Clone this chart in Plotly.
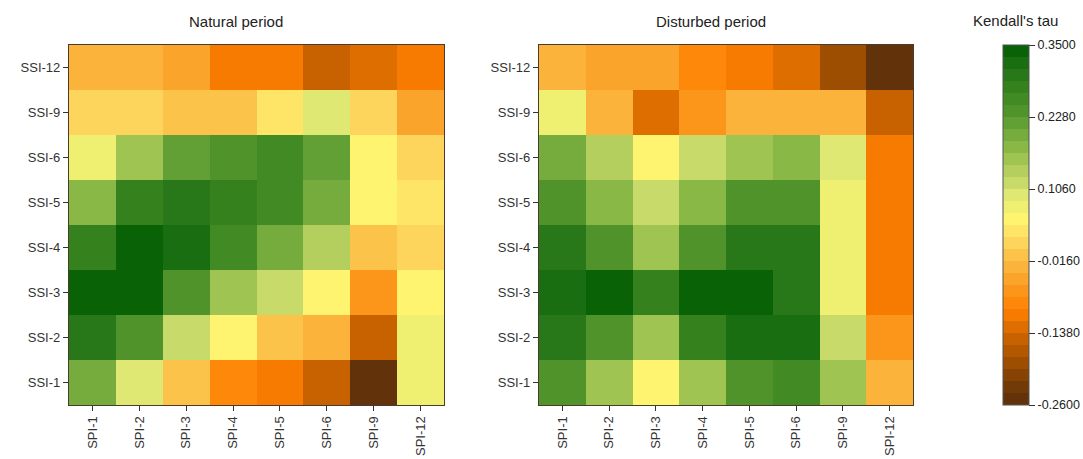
import plotly.graph_objects as go

spi_labels = ["SPI-1", "SPI-2", "SPI-3", "SPI-4", "SPI-5", "SPI-6", "SPI-9", "SPI-12"]
ssi_labels = ["SSI-12", "SSI-9", "SSI-6", "SSI-5", "SSI-4", "SSI-3", "SSI-2", "SSI-1"]

natural_tau = [
    [-0.020, -0.035, -0.050, -0.100, -0.115, -0.140, -0.120, -0.100],
    [0.010, 0.010, -0.010, -0.010, 0.030, 0.090, 0.015, -0.040],
    [0.085, 0.160, 0.210, 0.228, 0.260, 0.210, 0.055, 0.005],
    [0.180, 0.280, 0.300, 0.280, 0.260, 0.190, 0.055, 0.025],
    [0.270, 0.350, 0.320, 0.250, 0.190, 0.140, 0.000, 0.020],
    [0.350, 0.350, 0.230, 0.160, 0.110, 0.055, -0.060, 0.050],
    [0.290, 0.230, 0.120, 0.055, -0.010, -0.035, -0.140, 0.070],
    [0.190, 0.100, 0.000, -0.085, -0.115, -0.145, -0.240, 0.070],
]

disturbed_tau = [
    [-0.020, -0.040, -0.050, -0.080, -0.100, -0.120, -0.190, -0.255],
    [0.075, -0.020, -0.125, -0.060, -0.035, -0.035, -0.020, -0.140],
    [0.190, 0.140, 0.055, 0.125, 0.160, 0.175, 0.100, -0.100],
    [0.230, 0.175, 0.110, 0.185, 0.228, 0.245, 0.085, -0.100],
    [0.290, 0.230, 0.155, 0.245, 0.290, 0.290, 0.085, -0.100],
    [0.310, 0.335, 0.270, 0.335, 0.335, 0.290, 0.085, -0.100],
    [0.300, 0.245, 0.160, 0.270, 0.310, 0.310, 0.120, -0.060],
    [0.230, 0.160, 0.055, 0.155, 0.245, 0.260, 0.150, -0.020],
]

panel_titles = ["Natural period", "Disturbed period"]
cbar_ticks = [-0.26, -0.138, -0.016, 0.106, 0.228, 0.35]
cbar_ticktext = ["-0.2600", "-0.1380", "-0.0160", "0.1060", "0.2280", "0.3500"]
zmin, zmax = -0.26, 0.35

# colour anchors (value, hex)
anchors = [
    (-0.26, "#5a2e0c"), (-0.22, "#7a3e06"), (-0.18, "#a85200"), (-0.14, "#d06600"),
    (-0.10, "#ff8000"), (-0.06, "#fb9a20"), (-0.02, "#fbb840"), (0.02, "#fdd860"),
    (0.055, "#fff470"), (0.09, "#e4ec74"), (0.12, "#c4d868"), (0.16, "#9cc250"),
    (0.20, "#72aa3c"), (0.24, "#4e922a"), (0.28, "#34801e"), (0.32, "#1a6e12"),
    (0.35, "#005c00"),
]


def hex2rgb(h):
    h = h.lstrip("#")
    return tuple(int(h[i:i + 2], 16) for i in (0, 2, 4))


def interp(v):
    for (v0, c0), (v1, c1) in zip(anchors[:-1], anchors[1:]):
        if v0 <= v <= v1:
            t = (v - v0) / (v1 - v0)
            a, b = hex2rgb(c0), hex2rgb(c1)
            return "rgb(%d,%d,%d)" % tuple(round(a[i] + (b[i] - a[i]) * t) for i in range(3))
    return anchors[-1][1]


nsteps = 30
colorscale = []
for k in range(nsteps):
    v = zmin + (k + 0.5) * (zmax - zmin) / nsteps
    col = interp(v)
    colorscale.append([k / nsteps, col])
    colorscale.append([(k + 1) / nsteps, col])

W, H = 1083, 459
font_family = "Liberation Sans, Arial, sans-serif"

fig = go.Figure()
fig.add_trace(go.Heatmap(z=natural_tau, x=spi_labels, y=ssi_labels, coloraxis="coloraxis",
                         xaxis="x", yaxis="y", xgap=0, ygap=0))
fig.add_trace(go.Heatmap(z=disturbed_tau, x=spi_labels, y=ssi_labels, coloraxis="coloraxis",
                         xaxis="x2", yaxis="y2", xgap=0, ygap=0))

ydom = [1 - 405 / H, 1 - 45 / H]
axis_common = dict(showline=True, linecolor="#4a3a30", linewidth=1.2, mirror=True,
                   ticks="outside", ticklen=5, tickcolor="#333", showgrid=False, zeroline=False,
                   tickfont=dict(size=13, color="#333", family=font_family))

fig.update_layout(
    width=W, height=H,
    margin=dict(l=0, r=0, t=0, b=0),
    paper_bgcolor="white", plot_bgcolor="white",
    font=dict(family=font_family, color="#222"),
    xaxis=dict(domain=[69 / W, 444 / W], anchor="y", tickangle=-90, **axis_common),
    yaxis=dict(domain=ydom, anchor="x", autorange="reversed", **axis_common),
    xaxis2=dict(domain=[539 / W, 913 / W], anchor="y2", tickangle=-90, **axis_common),
    yaxis2=dict(domain=ydom, anchor="x2", autorange="reversed", **axis_common),
    coloraxis=dict(
        colorscale=colorscale, cmin=zmin, cmax=zmax,
        colorbar=dict(
            x=1003 / W, xanchor="left", xpad=0, y=ydom[0], yanchor="bottom", ypad=0,
            len=ydom[1] - ydom[0], lenmode="fraction", thickness=26,
            outlinewidth=1, outlinecolor="#555",
            tickvals=cbar_ticks, ticktext=cbar_ticktext, ticks="outside", ticklen=6,
            tickcolor="#333", tickfont=dict(size=12.5, color="#222", family=font_family),
        ),
    ),
    showlegend=False,
)

for txt, xc in zip(panel_titles, [236, 711]):
    fig.add_annotation(text=txt, x=xc / W, y=1 - 22 / H, xref="paper", yref="paper",
                       xanchor="center", yanchor="middle", showarrow=False,
                       font=dict(size=15, color="#222", family=font_family))
fig.add_annotation(text="Kendall's tau", x=1015 / W, y=1 - 21 / H, xref="paper", yref="paper",
                   xanchor="center", yanchor="middle", showarrow=False,
                   font=dict(size=15, color="#222", family=font_family))

fig.write_html("out.html")
